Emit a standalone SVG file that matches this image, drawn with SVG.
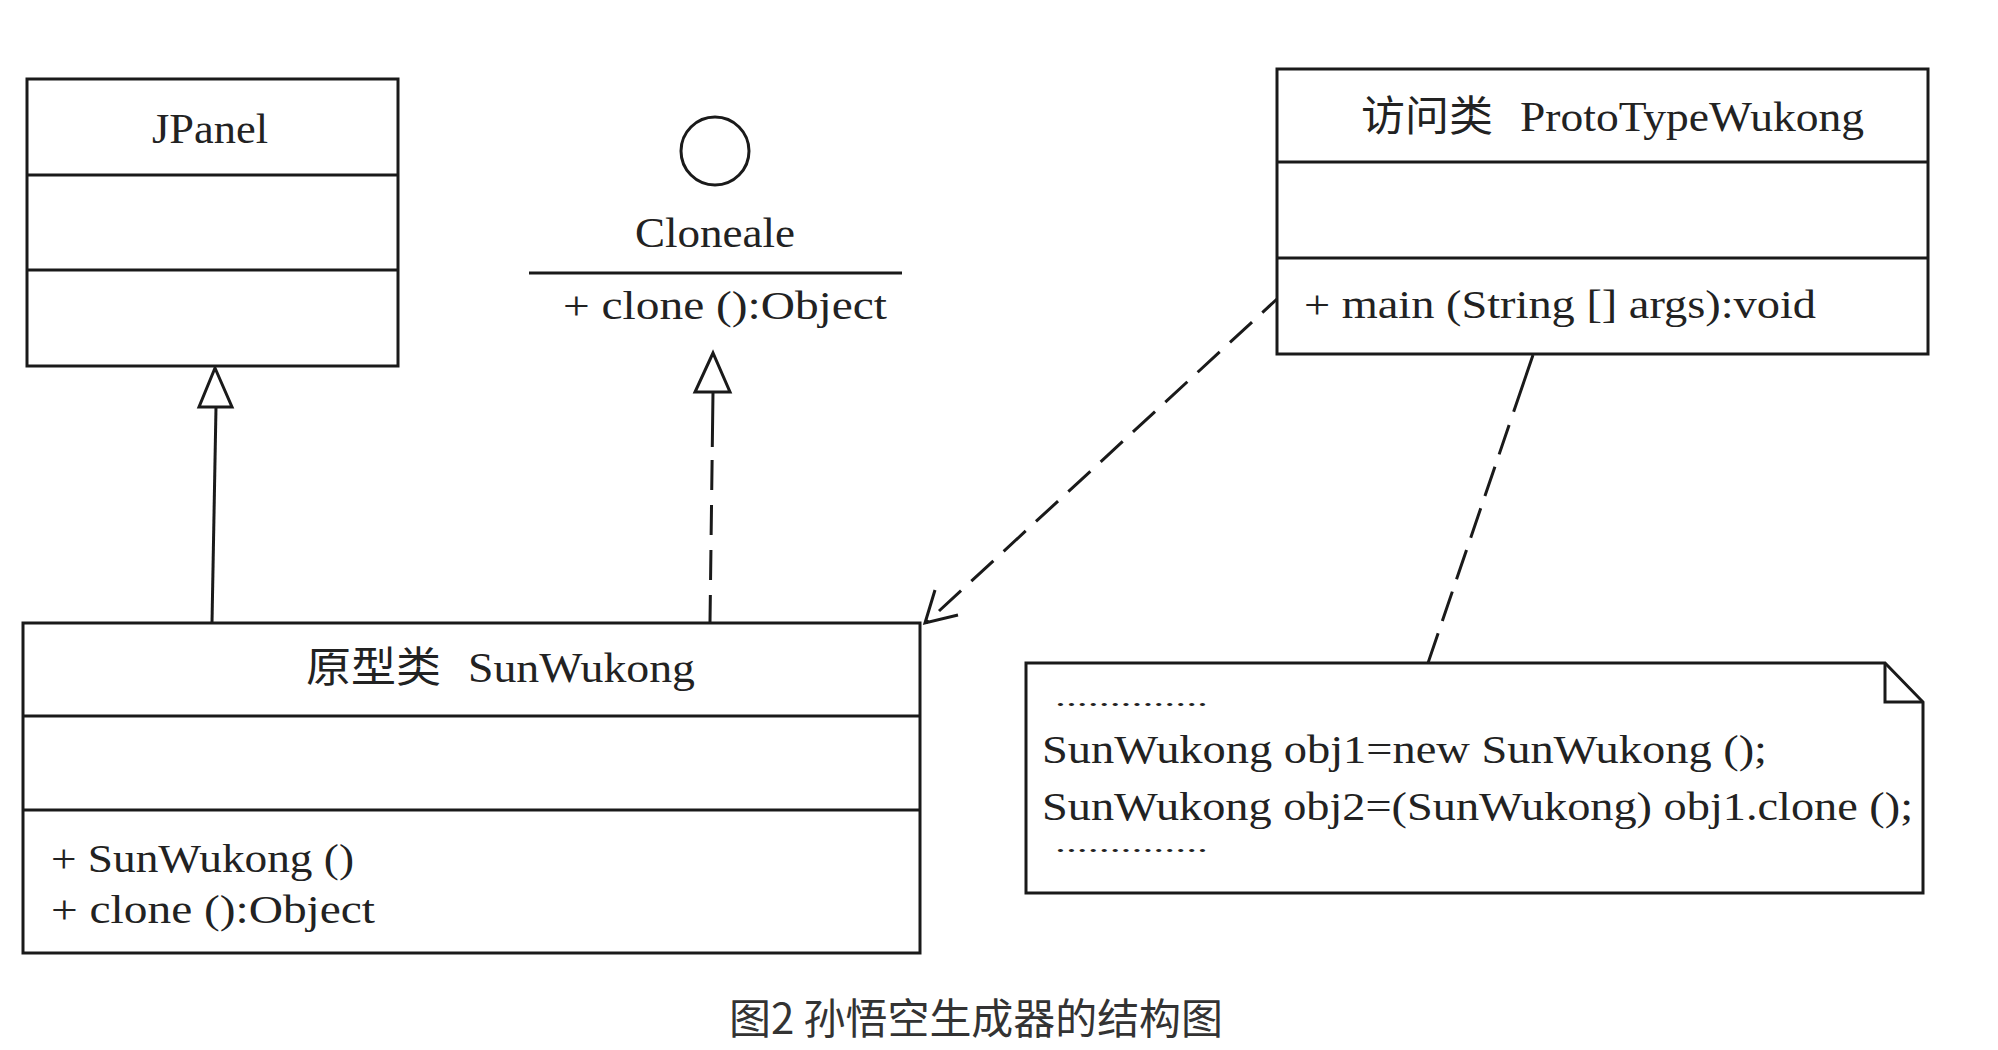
<svg xmlns="http://www.w3.org/2000/svg" width="1998" height="1050" viewBox="0 0 1998 1050">
<style>
.box{fill:#fff;stroke:#1a1a1a;stroke-width:3}
.ln{fill:none;stroke:#1a1a1a;stroke-width:3}
.dash{fill:none;stroke:#1a1a1a;stroke-width:3}
.t{font-family:"Liberation Serif","Noto Sans CJK SC",serif;font-size:42px;fill:#222}
.m{font-family:"Liberation Serif","Noto Sans CJK SC",serif;font-size:40px;fill:#222}
.d{font-family:"Liberation Serif",serif;font-size:26px;fill:#222}
.cap{font-family:"Noto Sans CJK SC","Noto Sans",sans-serif;font-size:42px;fill:#333}
</style>
<rect width="1998" height="1050" fill="#fff"/>
<g id="connectors">
  <line class="ln" x1="216" y1="407" x2="212" y2="623"/>
  <polygon class="box" points="215,368 199,407 232,407"/>
  <path class="dash" d="M713,392 L710,622" stroke-dasharray="55 13 30 15 30 15 30 15 27"/>
  <polygon class="box" points="713,353 695,392 730,392"/>
  <path class="dash" d="M1277,299 L926,623" stroke-dasharray="30 14" stroke-dashoffset="10"/>
  <polyline class="ln" points="935,590 925,623 958,615"/>
  <path class="dash" d="M1533,355 L1428,663" stroke-dasharray="60 14 31 13 31 13 31 13 31 13 31 13 31"/>
</g>
<g id="JPanel">
  <rect class="box" x="27" y="79" width="371" height="287"/>
  <line class="ln" x1="27" y1="175" x2="398" y2="175"/>
  <line class="ln" x1="27" y1="270" x2="398" y2="270"/>
  <text class="t" x="152" y="143" textLength="116" lengthAdjust="spacingAndGlyphs">JPanel</text>
</g>
<g id="Cloneale">
  <circle class="box" cx="715" cy="151" r="34"/>
  <text class="t" x="635" y="247" textLength="160" lengthAdjust="spacingAndGlyphs">Cloneale</text>
  <line class="ln" x1="529" y1="273" x2="902" y2="273"/>
  <text class="m" x="563" y="319" textLength="324" lengthAdjust="spacingAndGlyphs">+ clone ():Object</text>
</g>
<g id="ProtoTypeWukong">
  <rect class="box" x="1277" y="69" width="651" height="285"/>
  <line class="ln" x1="1277" y1="162" x2="1928" y2="162"/>
  <line class="ln" x1="1277" y1="258" x2="1928" y2="258"/>
  <text class="t" x="1361" y="131" textLength="132" lengthAdjust="spacingAndGlyphs">访问类</text>
  <text class="t" x="1520" y="131" textLength="344" lengthAdjust="spacingAndGlyphs">ProtoTypeWukong</text>
  <text class="m" x="1304" y="318" textLength="512" lengthAdjust="spacingAndGlyphs">+ main (String [] args):void</text>
</g>
<g id="SunWukong">
  <rect class="box" x="23" y="623" width="897" height="330"/>
  <line class="ln" x1="23" y1="716" x2="920" y2="716"/>
  <line class="ln" x1="23" y1="810" x2="920" y2="810"/>
  <text class="t" x="306" y="682" textLength="135" lengthAdjust="spacingAndGlyphs">原型类</text>
  <text class="t" x="468" y="682" textLength="227" lengthAdjust="spacingAndGlyphs">SunWukong</text>
  <text class="m" x="51" y="872" textLength="303" lengthAdjust="spacingAndGlyphs">+ SunWukong ()</text>
  <text class="m" x="51" y="923" textLength="324" lengthAdjust="spacingAndGlyphs">+ clone ():Object</text>
</g>
<g id="note">
  <path class="box" d="M1026,663 L1885,663 L1923,702 L1923,893 L1026,893 Z"/>
  <path class="ln" d="M1885,663 L1885,702 L1923,702"/>
  <text class="d" x="1055" y="706" textLength="153" lengthAdjust="spacingAndGlyphs">..............</text>
  <text class="m" x="1042" y="763" textLength="725" lengthAdjust="spacingAndGlyphs">SunWukong obj1=new SunWukong ();</text>
  <text class="m" x="1042" y="820" textLength="871" lengthAdjust="spacingAndGlyphs">SunWukong obj2=(SunWukong) obj1.clone ();</text>
  <text class="d" x="1055" y="852" textLength="153" lengthAdjust="spacingAndGlyphs">..............</text>
</g>
<g id="caption">
  <text class="cap" x="729" y="1034" textLength="494" lengthAdjust="spacingAndGlyphs">图2 孙悟空生成器的结构图</text>
</g>
</svg>
